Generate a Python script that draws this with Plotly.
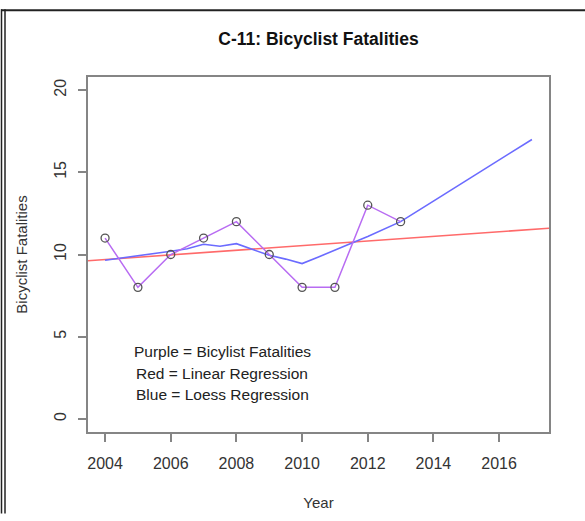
import plotly.graph_objects as go

# observed bicyclist fatalities
years = [2004, 2005, 2006, 2007, 2008, 2009, 2010, 2011, 2012, 2013]
fatalities = [11, 8, 10, 11, 12, 10, 8, 8, 13, 12]

# linear regression line (at the plot edges)
lin_years = [2003.48, 2017.52]
lin_values = [9.62, 11.6]

# loess curve
loess_years = [2004, 2004.5, 2005, 2005.5, 2006, 2006.5, 2007, 2007.5, 2008, 2008.5,
               2009, 2009.5, 2010, 2010.5, 2011, 2011.5, 2012, 2012.5, 2013,
               2014, 2015, 2016, 2017]
loess_values = [9.65, 9.78, 9.9, 10.05, 10.2, 10.35, 10.62, 10.5, 10.66, 10.3,
                9.95, 9.72, 9.45, 9.85, 10.25, 10.68, 11.1, 11.55, 12.0,
                13.25, 14.5, 15.75, 17.0]

x_ticks = [2004, 2006, 2008, 2010, 2012, 2014, 2016]
y_ticks = [0, 5, 10, 15, 20]

legend_lines = ["Purple = Bicylist Fatalities", "Red = Linear Regression", "Blue = Loess Regression"]
legend_x = 2007.57
legend_y = [4.07, 2.75, 1.5]

W, H = 585, 521
SHIFT = 3  # page renders a few px higher than asked
L, R, T, B = 88, 36, 74 + SHIFT, 86 - SHIFT
FONT = 'Liberation Sans, Arial'

fig = go.Figure()
fig.add_trace(go.Scatter(x=lin_years, y=lin_values, mode='lines',
                         line=dict(color='#ff6a6a', width=1.6), showlegend=False))
fig.add_trace(go.Scatter(x=loess_years, y=loess_values, mode='lines',
                         line=dict(color='#6b6bff', width=1.6), showlegend=False))
fig.add_trace(go.Scatter(x=years, y=fatalities, mode='lines+markers',
                         line=dict(color='#b86cf2', width=1.5),
                         marker=dict(symbol='circle-open', size=8, color='#555555',
                                     line=dict(width=1.3, color='#555555')),
                         showlegend=False))

for txt, yy in zip(legend_lines, legend_y):
    fig.add_annotation(x=legend_x, y=yy, text=txt, showarrow=False,
                       font=dict(family=FONT, size=15.5, color='#222222'))

# outer frame of the screenshot (left and top edges only)
pw, ph = W - L - R, H - T - B
def px(x):
    return (x - L) / pw
def py(y):
    return (H - B - y) / ph

for xx in [1.5, 5]:
    fig.add_shape(type='line', xref='paper', yref='paper', x0=px(xx), x1=px(xx),
                  y0=py(5 + SHIFT), y1=py(H), line=dict(color='#222222', width=1.5))
fig.add_shape(type='line', xref='paper', yref='paper', x0=px(1), x1=px(W),
              y0=py(6 + SHIFT), y1=py(6 + SHIFT), line=dict(color='#222222', width=2))

axis_common = dict(showgrid=False, zeroline=False, showline=True, mirror=True,
                   linecolor='#858585', linewidth=1.8, ticks='outside', ticklen=8,
                   tickwidth=1.5, tickcolor='#858585',
                   tickfont=dict(family=FONT, size=16, color='#333333'))

fig.update_layout(
    width=W, height=H,
    margin=dict(l=L, r=R, t=T, b=B),
    paper_bgcolor='white', plot_bgcolor='white',
    title=dict(text='<b>C-11: Bicyclist Fatalities</b>', x=0.5, xref='paper',
               y=1 - (36 + SHIFT) / H, yref='container', yanchor='middle',
               font=dict(family=FONT, size=17.5, color='#111111')),
    xaxis=dict(range=[2003.48, 2017.52], tickvals=x_ticks, ticklabelstandoff=8,
               title=dict(text='Year', standoff=26,
                          font=dict(family=FONT, size=15, color='#333333')),
               **axis_common),
    yaxis=dict(range=[-0.8, 20.8], tickvals=y_ticks, tickangle=-90, ticklabelstandoff=6,
               title=dict(text='Bicyclist Fatalities', standoff=20,
                          font=dict(family=FONT, size=15, color='#333333')),
               **axis_common),
)

fig.write_html("out.html", config={'displayModeBar': False},
               post_script="document.body.style.margin='0px';")
